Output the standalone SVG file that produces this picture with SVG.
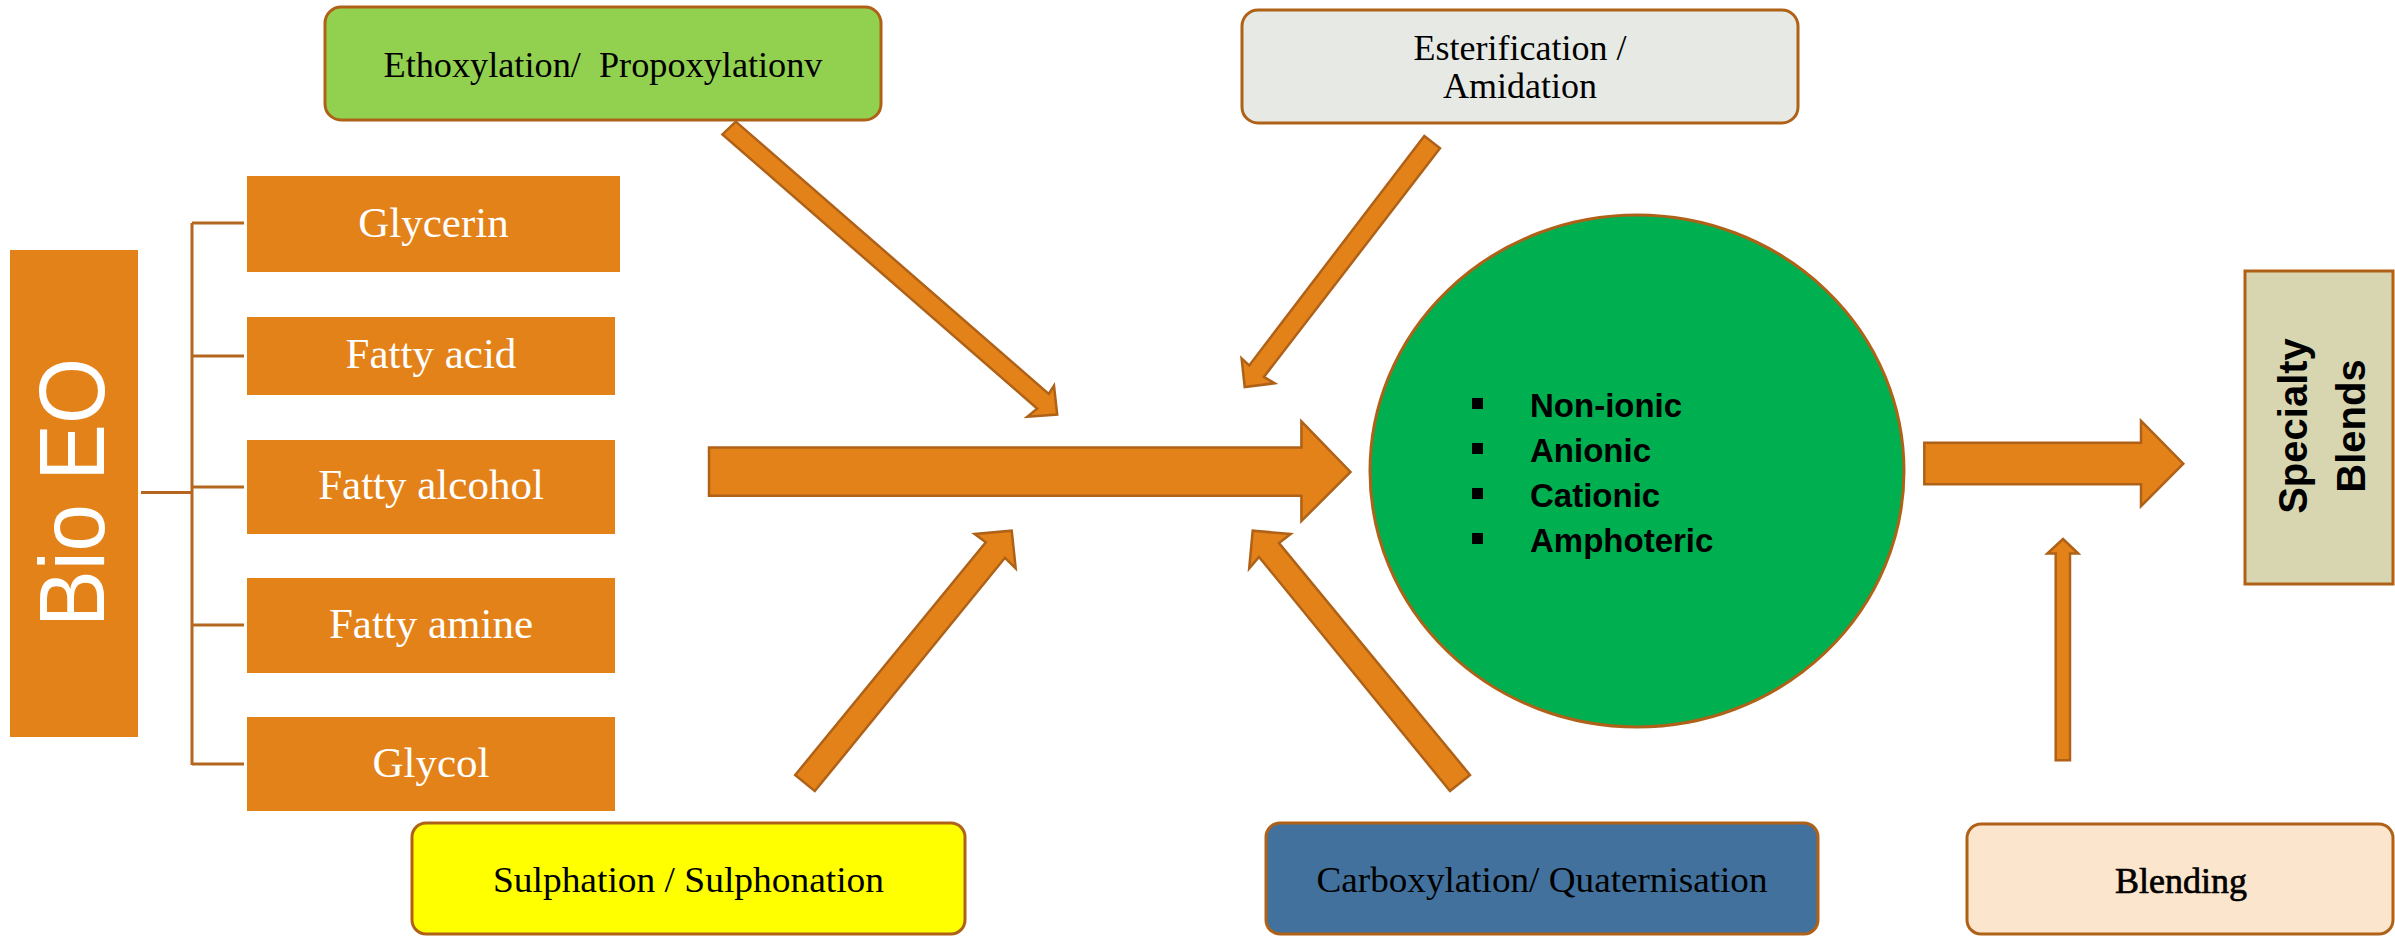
<svg xmlns="http://www.w3.org/2000/svg" width="2395" height="937" viewBox="0 0 2395 937">
<style>
.src rect{fill:#E4821A}
.src text{font-family:"Liberation Serif","Times New Roman",serif;font-size:43px;fill:#fff;text-anchor:middle}
.box{stroke:#AF6217;stroke-width:3}
.lbl{font-family:"Liberation Serif","Times New Roman",serif;font-size:36px;fill:#000;text-anchor:middle}
.arr{fill:#E4821A;stroke:#AF6217;stroke-width:2.5;stroke-linejoin:miter}
.brk{stroke:#B4661F;stroke-width:3;fill:none}
.bul text{font-family:"Liberation Sans",Arial,sans-serif;font-weight:bold;font-size:33px;fill:#000}
.side{font-family:"Liberation Sans",Arial,sans-serif;font-weight:bold;font-size:40px;fill:#000;text-anchor:middle}
</style>
<rect width="2395" height="937" fill="#fff"/>

<g id="bio-eo" class="src">
  <rect x="10" y="250" width="128" height="487"/>
  <text transform="translate(104,492.5) rotate(-90)" style="font-family:'Liberation Sans',Arial,sans-serif;font-size:92px" textLength="269" lengthAdjust="spacingAndGlyphs">Bio EO</text>
</g>
<g id="glycerin" class="src">
  <rect x="247" y="176" width="373" height="96"/>
  <text x="433.5" y="237">Glycerin</text>
</g>
<g id="fatty-acid" class="src">
  <rect x="247" y="317" width="368" height="78"/>
  <text x="431" y="368">Fatty acid</text>
</g>
<g id="fatty-alcohol" class="src">
  <rect x="247" y="440" width="368" height="94"/>
  <text x="431" y="499">Fatty alcohol</text>
</g>
<g id="fatty-amine" class="src">
  <rect x="247" y="578" width="368" height="95"/>
  <text x="431" y="638">Fatty amine</text>
</g>
<g id="glycol" class="src">
  <rect x="247" y="717" width="368" height="94"/>
  <text x="431" y="777">Glycol</text>
</g>

<g id="ethoxylation">
  <rect class="box" x="325" y="7" width="556" height="113" rx="16" fill="#92D050"/>
  <text class="lbl" x="603" y="77" xml:space="preserve" textLength="439" lengthAdjust="spacingAndGlyphs">Ethoxylation/  Propoxylationv</text>
</g>
<g id="esterification">
  <rect class="box" x="1242" y="10" width="556" height="113" rx="16" fill="#E7E9E4"/>
  <text class="lbl" x="1520" y="60">Esterification /</text>
  <text class="lbl" x="1520" y="98">Amidation</text>
</g>
<g id="sulphation">
  <rect class="box" x="412" y="823" width="553" height="111" rx="14" fill="#FFFF00"/>
  <text class="lbl" x="688.5" y="892" textLength="391" lengthAdjust="spacingAndGlyphs">Sulphation / Sulphonation</text>
</g>
<g id="carboxylation">
  <rect class="box" x="1266" y="823" width="552" height="111" rx="14" fill="#41719C"/>
  <text class="lbl" x="1542" y="892" textLength="451" lengthAdjust="spacingAndGlyphs">Carboxylation/ Quaternisation</text>
</g>
<g id="blending">
  <rect class="box" x="1967" y="824" width="426" height="110" rx="14" fill="#FBE5CD"/>
  <text class="lbl" x="2181" y="893" stroke="#000" stroke-width="0.7">Blending</text>
</g>

<g id="surfactants" class="bul">
  <ellipse cx="1637" cy="471" rx="267" ry="256" fill="#00AF50" stroke="#AF6217" stroke-width="3"/>
  <rect x="1472" y="398" width="11" height="11"/>
  <rect x="1472" y="443" width="11" height="11"/>
  <rect x="1472" y="488" width="11" height="11"/>
  <rect x="1472" y="533" width="11" height="11"/>
  <text x="1530" y="417">Non-ionic</text>
  <text x="1530" y="462">Anionic</text>
  <text x="1530" y="507">Cationic</text>
  <text x="1530" y="552">Amphoteric</text>
</g>

<g id="specialty-blends">
  <rect class="box" x="2245" y="271" width="148" height="313" fill="#D8D6B1"/>
  <text class="side" transform="translate(2307,426) rotate(-90)">Specialty</text>
  <text class="side" transform="translate(2365,426) rotate(-90)">Blends</text>
</g>

<g id="connectors">
  <path class="brk" d="M141,492.5 H192 M192,223 V765 M192,223 H244 M192,356 H244 M192,487 H244 M192,625 H244 M192,764 H244"/>
  <polygon class="arr" points="709,447.6 1301.4,447.6 1301.4,421.4 1350.5,472 1301.4,521.1 1301.4,495.8 709,495.8"/>
  <polygon class="arr" points="735.8,121.6 1048.7,393.9 1054,385.6 1057.2,414.6 1027.3,416.8 1037.1,408.6 722.4,134.4"/>
  <polygon class="arr" points="1424.3,136 1440,148.3 1263.9,376.9 1274.6,383.3 1244.7,387 1241.6,358.5 1249.2,365.4"/>
  <polygon class="arr" points="795.2,775 985.8,542.2 974.6,534 1011.7,530.7 1015.7,568.4 1005,557.8 814.8,791.1"/>
  <polygon class="arr" points="1470,775 1279,543.1 1290.7,534 1252.7,530.7 1249.2,568.4 1259,556.9 1450,791"/>
  <polygon class="arr" points="1924.3,442.7 2141,442.7 2141,420.8 2183.3,463.7 2141,506.2 2141,484.3 1924.3,484.3"/>
  <polygon class="arr" points="2055.7,760.3 2055.7,553.5 2047.3,553.5 2063,539 2078.3,553.5 2070,553.5 2070,760.3"/>
</g>
</svg>
